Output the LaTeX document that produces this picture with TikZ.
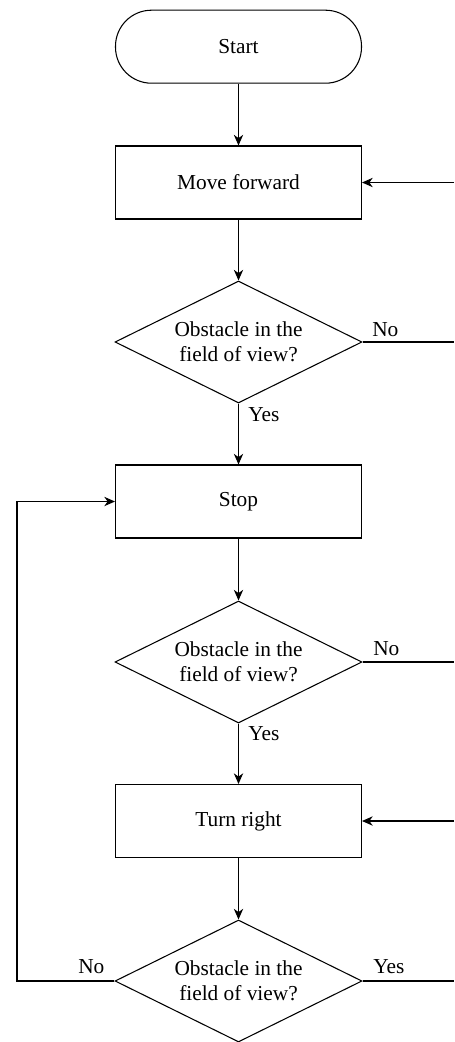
\documentclass[tikz,border=0pt]{standalone}
\usepackage{fontspec}
\setmainfont{Liberation Serif}
\usetikzlibrary{arrows.meta,shapes.geometric}
\begin{document}
\begin{tikzpicture}[x=0.75pt,y=-0.75pt,
  every node/.style={font=\fontsize{16}{18.75}\selectfont},
  base/.style={draw=black,line width=0.8pt,inner sep=0pt,align=center},
  term/.style={base,rectangle,rounded corners=27pt,minimum width=184.5pt,minimum height=54.75pt},
  proc/.style={base,rectangle,minimum width=184.5pt,minimum height=54.75pt},
  dec/.style={base,diamond,aspect=2.02,minimum width=185.25pt,minimum height=91.5pt},
  lbl/.style={inner sep=0pt,anchor=base west},
  conn/.style={line width=0.8pt,draw=black},
  arr/.style={conn,-{Stealth[length=8pt,width=7pt,inset=2.5pt]}}
]
\useasboundingbox (0,0) rectangle (454,1042);

\node[term] (start) at (238.5,46.7) {Start};
\node[proc] (move) at (238.5,182.5) {Move forward};
\node[dec] (d1) at (238.5,342) {Obstacle in the\\field of view?};
\node[proc] (stop) at (238.5,501.5) {Stop};
\node[dec] (d2) at (238.5,662) {Obstacle in the\\field of view?};
\node[proc] (turn) at (238.5,821) {Turn right};
\node[dec] (d3) at (238.5,981) {Obstacle in the\\field of view?};

\coordinate (inMove) at (454,182.5);
\coordinate (out1) at (454,342);
\coordinate (out2) at (454,662);
\coordinate (inTurn) at (454,821);
\coordinate (out3) at (454,981);
\coordinate (loop) at (17,981);

\draw[arr] (start) -- (move);
\draw[arr] (move) -- (d1);
\draw[arr] (d1) -- (stop);
\draw[arr] (stop) -- (d2);
\draw[arr] (d2) -- (turn);
\draw[arr] (turn) -- (d3);

\draw[arr] (inMove) -- (move.east);
\draw[arr] (inTurn) -- (turn.east);
\draw[conn] (d1.east) -- (out1);
\draw[conn] (d2.east) -- (out2);
\draw[conn] (d3.east) -- (out3);
\draw[arr] (d3.west) -- (loop) |- (stop.west);

\node[lbl] (n1) at (372,336) {No};
\node[lbl] (y1) at (248,421) {Yes};
\node[lbl] (n2) at (373,655) {No};
\node[lbl] (y2) at (248,740) {Yes};
\node[lbl] (n3) at (78,973) {No};
\node[lbl] (y3) at (373,973) {Yes};
\end{tikzpicture}
\end{document}
